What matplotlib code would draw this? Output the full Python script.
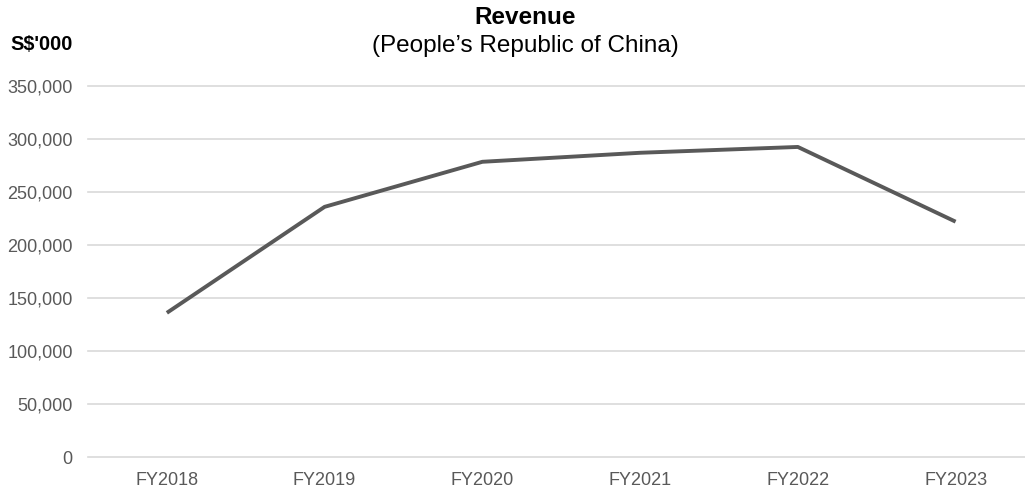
import matplotlib.pyplot as plt
from matplotlib.ticker import FuncFormatter

plt.rcParams['font.family'] = ['Liberation Sans', 'DejaVu Sans']

years = ['FY2018', 'FY2019', 'FY2020', 'FY2021', 'FY2022', 'FY2023']
revenue = [136000, 236000, 278500, 287000, 292500, 222000]

W, H = 1025, 488
fig = plt.figure(figsize=(W / 100, H / 100), dpi=100)
ax = fig.add_axes([88 / W, 31 / H, (W - 88) / W, 371 / H])

x = list(range(len(years)))
ax.plot(x, revenue, color='#595959', linewidth=2.8, solid_capstyle='butt')

ax.set_ylim(0, 350000)
ax.set_yticks(range(0, 350001, 50000))
ax.yaxis.set_major_formatter(FuncFormatter(lambda v, p: f'{int(v):,}'))
ax.set_xlim(-0.5, 5.44)
ax.set_xticks(x)
ax.set_xticklabels(years)

ax.grid(axis='y', color='#d9d9d9', linewidth=1.2)
for gl in ax.get_ygridlines():
    gl.set_clip_on(False)
ax.set_axisbelow(True)
for s in ax.spines.values():
    s.set_visible(False)
ax.tick_params(length=0, labelsize=13, labelcolor='#595959')
ax.tick_params(axis='y', pad=11)
ax.tick_params(axis='x', pad=11)

fig.text(525 / W, 1 - 17 / H, 'Revenue', ha='center', va='center',
         fontsize=17.5, fontweight='bold')
fig.text(525 / W, 1 - 46 / H, '(People\u2019s Republic of China)', ha='center',
         va='center', fontsize=17.5)
fig.text(10 / W, 1 - 45 / H, "S$'000", ha='left', va='center',
         fontsize=14.3, fontweight='bold')

fig.savefig('out.png', dpi=100)
